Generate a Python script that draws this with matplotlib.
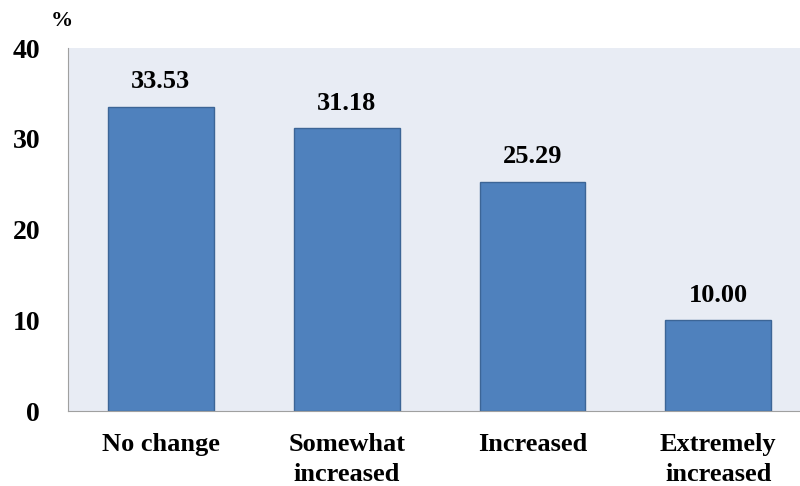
import matplotlib
matplotlib.use("Agg")
import matplotlib.pyplot as plt

categories = ["No change", "Somewhat\nincreased", "Increased", "Extremely\nincreased"]
values = [33.53, 31.18, 25.29, 10.00]
yticks = [0, 10, 20, 30, 40]

plt.rcParams['font.family'] = ['Liberation Serif', 'DejaVu Serif']
plt.rcParams['font.weight'] = 'bold'

fig = plt.figure(figsize=(8, 4.86), dpi=100)
ax = fig.add_axes([0.085, 0.154, 0.929, 0.747])
ax.set_facecolor('#E8ECF4')

x = range(len(categories))
bars = ax.bar(x, values, width=0.57, color='#4F81BD', edgecolor='#3C6596', linewidth=1)

for b, v in zip(bars, values):
    ax.text(b.get_x() + b.get_width() / 2, v + 1.5, f"{v:.2f}",
            ha='center', va='bottom', fontsize=19, fontweight='bold')

ax.set_xlim(-0.5, len(categories) - 0.5)
ax.set_ylim(0, 40)
ax.set_yticks(yticks)
ax.set_xticks(list(x))
ax.set_xticklabels(categories, fontsize=19, fontweight='bold', linespacing=1.35)
ax.tick_params(axis='y', length=0, pad=20, labelsize=20)
ax.tick_params(axis='x', length=0, pad=16)
for lab in ax.get_yticklabels():
    lab.set_fontweight('bold')

for s in ['top', 'right']:
    ax.spines[s].set_visible(False)
ax.spines['left'].set_color('#A0A0A0')
ax.spines['bottom'].set_color('#A0A0A0')

fig.text(0.064, 0.957, "%", ha='left', va='center', fontsize=16, fontweight='bold')

fig.savefig('out.png', dpi=100)
